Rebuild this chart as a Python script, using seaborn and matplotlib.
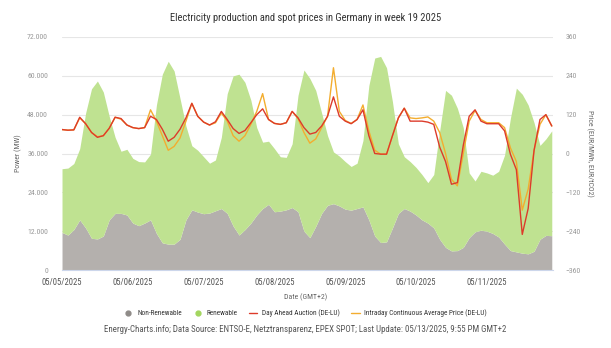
import numpy as np
import pandas as pd
import matplotlib
matplotlib.use("Agg")
import matplotlib.pyplot as plt
import matplotlib.dates as mdates
from matplotlib import font_manager
from matplotlib.lines import Line2D
from matplotlib.ticker import FuncFormatter, FixedLocator
import seaborn as sns

# ---------------- data (2-hourly, week 19 2025) ----------------
hours = list(range(0, 168, 2))

non_renewable_mw = [
    11600, 10800, 12500, 15500, 13000, 9800, 9600, 10500, 15500, 17500, 17500, 17000,
    14500, 13700, 14500, 15500, 11300, 8400, 8000, 8000, 9500, 15500, 18600, 17900,
    17400, 17600, 18300, 19000, 17500, 13600, 10800, 12500, 14500, 17000, 19000, 20300,
    18000, 18200, 18600, 19300, 18000, 12000, 10000, 13500, 17500, 20000, 20500, 19800,
    18800, 18500, 19000, 19500, 15500, 10500, 8500, 8700, 13000, 17500, 19000, 18200,
    17000, 15500, 14500, 13000, 9500, 7000, 5900, 6000, 7000, 10000, 11800, 12300,
    12000, 11300, 10200, 8000, 6000, 5600, 5200, 5000, 5800, 9500, 10700, 10600,
]
renewable_mw = [
    19700, 20700, 20400, 22000, 35500, 46200, 48800, 44500, 32000, 23500, 19200, 20300,
    20000, 19800, 18900, 20300, 39700, 52100, 56500, 53500, 43500, 29000, 19800, 19100,
    17600, 15400, 15700, 22000, 37000, 46400, 49700, 45500, 38000, 27000, 20500, 19500,
    19500, 16800, 16200, 19700, 36000, 49800, 49200, 42000, 31000, 21500, 16000, 15400,
    14700, 13500, 14000, 20500, 41500, 55000, 57500, 53800, 39000, 21500, 16000, 15300,
    14700, 14000, 12500, 16500, 33500, 48500, 48100, 44000, 37000, 20000, 15700, 18200,
    18000, 18000, 20300, 27500, 41000, 50600, 49100, 46000, 39700, 29000, 29800, 32400,
]
day_ahead_price = [
    74, 72, 73, 112, 92, 65, 50, 55, 78, 112, 108, 88,
    80, 77, 80, 115, 105, 75, 38, 50, 75, 110, 155, 115,
    97, 88, 98, 130, 105, 77, 62, 71, 95, 120, 138, 105,
    93, 90, 95, 130, 110, 80, 60, 65, 85, 115, 175, 115,
    100, 92, 105, 135, 55, 0, -2, -2, 55, 110, 140, 100,
    100, 100, 97, 90, 20, -25, -95, -90, 25, 115, 135, 100,
    92, 92, 92, 70, -3, -50, -250, -170, 10, 105, 120, 85,
]
intraday_price = [
    74, 72, 73, 110, 92, 65, 52, 55, 78, 112, 106, 88,
    80, 77, 80, 135, 100, 55, 10, 22, 48, 100, 155, 115,
    97, 88, 95, 125, 100, 55, 38, 55, 90, 130, 185, 105,
    93, 90, 95, 130, 108, 65, 32, 45, 80, 115, 265, 130,
    102, 93, 105, 150, 70, 10, -2, -2, 55, 110, 140, 110,
    108, 110, 113, 100, 65, 0, -80, -100, 0, 100, 133, 105,
    95, 95, 95, 80, 17, -25, -175, -110, 10, 90, 120, 85,
]
date_labels = ["05/05/2025", "05/06/2025", "05/07/2025", "05/08/2025",
               "05/09/2025", "05/10/2025", "05/11/2025"]
power_ticks = [0, 12000, 24000, 36000, 48000, 60000, 72000]
price_ticks = [-360, -240, -120, 0, 120, 240, 360]

title = "Electricity production and spot prices in Germany in week 19 2025"
source = ("Energy-Charts.info; Data Source: ENTSO-E, Netztransparenz, EPEX SPOT; "
          "Last Update: 05/13/2025, 9:55 PM GMT+2")

# ---------------- style ----------------
def pick(*names):
    for n in names:
        try:
            font_manager.findfont(font_manager.FontProperties(family=n),
                                  fallback_to_default=False)
            return n
        except Exception:
            pass
    return "DejaVu Sans"

sns.set_theme(style="white")
FONT = pick("Liberation Sans Narrow", "Roboto Condensed", "Liberation Sans")
plt.rcParams["font.family"] = [FONT, "DejaVu Sans"]

C_GREY = "#b4b0ad"
C_GREEN = "#bfe291"
C_GREY_DOT = "#8f8b88"
C_GREEN_DOT = "#a3d65f"
C_RED = "#dd3b2a"
C_ORANGE = "#f3ad2f"

start = pd.Timestamp("2025-05-05 00:00")
df = pd.DataFrame({
    "time": start + pd.to_timedelta(hours, unit="h"),
    "non_renewable": non_renewable_mw,
    "renewable": renewable_mw,
    "day_ahead": day_ahead_price,
    "intraday": intraday_price,
})
df["total"] = df["non_renewable"] + df["renewable"]

fig = plt.figure(figsize=(6.11, 3.48), dpi=100)
ax = fig.add_axes([0.1015, 0.2241, 0.8035, 0.6696])

ax.fill_between(df["time"], 0, df["non_renewable"], color=C_GREY, lw=0, zorder=2)
ax.fill_between(df["time"], df["non_renewable"], df["total"], color=C_GREEN, lw=0, zorder=2)

ax.set_ylim(0, 72000)
ax.yaxis.set_major_locator(FixedLocator(power_ticks))
ax.yaxis.set_major_formatter(FuncFormatter(lambda v, p: f"{int(v):,}".replace(",", ".")))
ax.grid(axis="y", color="#e6e6e6", lw=0.8, zorder=0)
ax.grid(axis="x", visible=False)
ax.set_axisbelow(True)

x0 = start
x1 = start + pd.Timedelta(hours=166.4)
ax.set_xlim(x0, x1)
day_pos = [start + pd.Timedelta(days=i) for i in range(len(date_labels))]
ax.set_xticks(day_pos)
ax.set_xticklabels(date_labels)

ax2 = ax.twinx()
sns.lineplot(data=df, x="time", y="day_ahead", ax=ax2, color=C_RED, lw=1.0, zorder=4)
sns.lineplot(data=df, x="time", y="intraday", ax=ax2, color=C_ORANGE, lw=1.0, zorder=3)
ax2.set_ylim(-360, 360)
ax2.yaxis.set_major_locator(FixedLocator(price_ticks))
ax2.set_xlim(x0, x1)
ax2.grid(False)
ax2.set_ylabel("")
ax.set_xlabel("")
ax2.set_xlabel("")
ax.set_ylabel("")

for a in (ax, ax2):
    for s in ("top", "left", "right", "bottom"):
        a.spines[s].set_visible(False)
ax.spines["bottom"].set_visible(True)
ax.spines["bottom"].set_color("#ccd6eb")
ax.spines["bottom"].set_linewidth(0.8)

ax.tick_params(axis="y", length=0, pad=10, labelsize=5.6, labelcolor="#999999")
ax2.tick_params(axis="y", length=0, pad=9, labelsize=5.6, labelcolor="#999999")
ax.tick_params(axis="x", length=0, pad=6, labelsize=6.2, labelcolor="#555555")
for lab in ax2.get_yticklabels():
    lab.set_horizontalalignment("left")

fig.text(0.5, 0.948, title, ha="center", va="center", fontsize=7.6, color="#333333")
fig.text(0.029, 0.56, "Power (MW)", rotation=90, ha="center", va="center",
         fontsize=5.6, color="#666666")
fig.text(0.966, 0.56, "Price (EUR/MWh, EUR/tCO2)", rotation=270, ha="center",
         va="center", fontsize=5.6, color="#666666")
fig.text(0.5, 0.147, "Date (GMT+2)", ha="center", va="center", fontsize=5.6,
         color="#666666")
fig.text(0.5, 0.052, source, ha="center", va="center", fontsize=6.4, color="#555555")

handles = [
    Line2D([], [], marker="o", ls="none", color=C_GREY_DOT, markersize=3.5),
    Line2D([], [], marker="o", ls="none", color=C_GREEN_DOT, markersize=3.5),
    Line2D([], [], color=C_RED, lw=1.0),
    Line2D([], [], color=C_ORANGE, lw=1.0),
]
labels = ["Non-Renewable", "Renewable", "Day Ahead Auction (DE-LU)",
          "Intraday Continuous Average Price (DE-LU)"]
leg = fig.legend(handles, labels, loc="center", bbox_to_anchor=(0.5, 0.1), ncol=4,
                 frameon=False, fontsize=5.2, handlelength=1.2, handletextpad=0.6,
                 columnspacing=1.6, labelcolor="#333333")

fig.savefig("out.png", dpi=100)
